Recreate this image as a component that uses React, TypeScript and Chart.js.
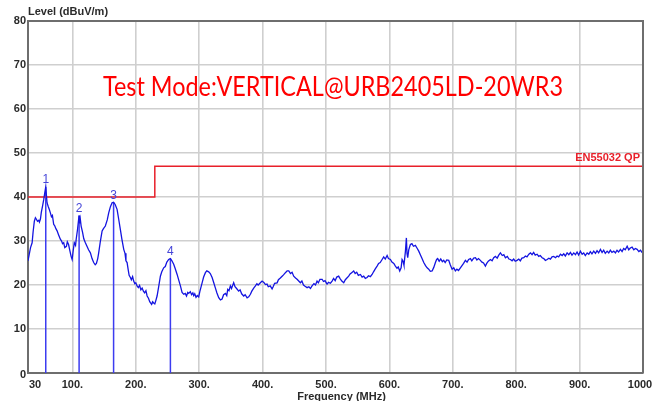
import React, { useEffect, useRef } from "react";
import { Chart, registerables } from "chart.js";
Chart.register(...registerables);

const freqMHz = [
  30, 32, 34, 36.5, 38, 40, 41.7, 43, 45, 46.9, 48, 49.6, 51, 53, 54.8, 56.5, 58, 59, 60, 62, 63.5, 65.3, 67, 68.5, 70.5, 72, 74, 75.9, 78, 81, 83, 84.5, 86.3, 88, 90.6, 92, 94, 96, 98, 99.6,
  101, 103, 105, 106, 108, 109.5, 110.6, 111.5, 112.5, 113.8, 116, 118, 120.5, 123, 125.5, 128.4, 131, 133.6, 136, 137.9, 140, 141.5, 144, 146.9, 149, 152, 155, 157.3, 160, 162.6,
  165, 167.5, 170.5, 173, 175.7, 178, 181, 183, 184.5, 186.3, 188, 189.5, 191.5, 193, 195, 196.7, 198.5, 200, 202, 204, 206, 208, 210, 212, 214, 216, 217.9, 220, 222, 223,
  225, 226.5, 228.3, 230, 231.5, 233.6, 236, 238.8, 241, 244, 246.5, 249, 251.9, 254.6, 257, 259.8, 262, 265.2, 268, 270.4, 273, 275.6, 278, 280, 282, 283.5, 286, 288, 290, 291.4,
  293, 295, 297, 299.2, 301, 304.6, 307, 309.8, 312, 315, 317.5, 320.4, 323, 325.6, 328, 330.8, 333.5, 336.1, 338.5, 341.4, 343.5, 345, 347, 349.2, 351, 354.4, 356.5, 359, 362.3, 364.5,
  367, 370.2, 372.5, 375.6, 378.1, 380.8, 383, 386, 388.7, 391, 393, 396.5, 399.2, 402, 404.5, 407, 409, 412, 415, 417, 419, 422.9, 425, 428, 430.8, 433, 436, 438.7, 441.3, 444,
  446.5, 449.1, 452, 454.4, 457, 459.6, 462, 464.5, 467, 470.2, 473, 475.5, 478, 481, 483.5, 485.9, 488, 490.5, 493.9, 496, 498.5, 501.7, 504, 507, 509.6, 512, 514.5, 517, 520, 522.5,
  525, 528, 530.5, 533, 535.8, 538, 540.5, 543.7, 546, 548.5, 551, 554.3, 557, 559.5, 562, 564.8, 567, 570, 572.7, 575, 577.5, 580.6, 583, 585.5, 588.5, 591, 593.5, 596.4, 598.5, 601.6,
  604, 607, 609.5, 612, 614, 616.3, 618.5, 620, 621.6, 623, 625.3, 626.8, 627.8, 628.9, 630.5, 633.1, 635.5, 638, 641, 643.5, 646.3, 649, 651.5, 654.2, 657, 659.5, 662, 664.5, 667.4, 670,
  672.6, 674.5, 676.2, 678.5, 681, 683.5, 685.7, 688, 690.5, 693.6, 696, 698.9, 701.5, 704.1, 706.5, 709, 712, 714.5, 717, 719.9, 722.5, 725, 727.8, 730, 733, 735.7, 738, 740.5, 743.5, 746,
  748.5, 751.4, 753.5, 756, 759.3, 762, 764.5, 767.2, 770, 772.5, 775.1, 778, 780.5, 783, 786, 788.5, 790.9, 793.5, 796, 798.5, 801.4, 804, 806.5, 809, 811.9, 814.5, 817, 820, 822.5, 825,
  827.5, 830, 833, 835.5, 838, 840.9, 843.5, 846, 848.8, 851.5, 854, 856.5, 859.2, 862, 864.5, 867, 869.8, 872.5, 875, 877.5, 880.3, 883, 885.5, 888, 890.8, 893.5, 896, 898.5, 901.3, 904,
  906.5, 909, 911.9, 914.5, 917, 919.5, 922.3, 925, 927.5, 930, 932.9, 935.5, 938, 940.5, 943.4, 946, 948.5, 951, 953.9, 956.5, 959, 961.5, 964.4, 967, 969.5, 972, 975, 977.5, 980, 982.8,
  985.5, 988, 990.7, 993.5, 996, 998, 1000,
];

const levelDb = [
  25.5, 27, 28.5, 29.6, 32, 34.5, 35.3, 35, 34.5, 34.7, 34.3, 35, 36.5, 38, 39.4, 41, 42.3, 40.5, 38.7, 37.8, 37.2, 36.4, 35.5, 35.8, 33.8, 33.5, 32.8, 32.3, 31.5, 30.4, 30, 29.4, 29.6, 28.5, 28.8, 29.8, 29.2, 27.8, 26.5, 25.8,
  27.5, 29.6, 29, 30.4, 32.5, 34.5, 35.8, 34, 35, 33.4, 32, 30.5, 29.6, 28.8, 28, 27.3, 26, 25.1, 24.6, 24.9, 26, 27.3, 29.8, 32.3, 32.8, 33.4, 34.8, 36.4, 37.8, 38.7,
  38.8, 38.3, 37.2, 35, 32.6, 30.5, 28.1, 27.2, 25.5, 25.1, 23.5, 22.2, 21.7, 21.2, 21.9, 20.9, 20.3, 20.5, 19.8, 19.4, 19.9, 18.9, 19.3, 18.6, 18.2, 18.7, 17.5, 17.0, 16.2, 16,
  15.6, 16.2, 15.9, 15.7, 16.4, 17.5, 19.5, 22, 23, 23.9, 24.2, 25.2, 25.8, 26, 25.5, 24.7, 23.8, 22.4, 21, 19.8, 18.3, 17.9, 18.1, 17.5, 18.3, 18.1, 18.5, 17.8, 18.2, 17.6,
  18.0, 17.2, 17.6, 17.3, 18.5, 20.5, 21.8, 22.8, 23.2, 23, 22.6, 21.7, 20.5, 19.3, 18.2, 17.1, 16.6, 16.8, 17.8, 18.1, 17.6, 19, 18.7, 19.8, 19.2, 20.5, 19.6, 19.2, 18.6, 18.9,
  18.0, 17.5, 17.8, 17.1, 17.3, 17.9, 18.6, 19.3, 19.8, 20.3, 20.0, 20.5, 20.9, 20.6, 20.1, 20.2, 19.6, 19.8, 19.1, 19.7, 20.4, 20.5, 21.2, 21.6, 22, 22.3, 22.8, 23.2, 23.2, 22.6,
  22.9, 22, 21.6, 21.3, 20.9, 20.5, 20.9, 20.0, 19.7, 19.4, 19.6, 19.2, 19.8, 20.3, 20.0, 20.9, 20.5, 21.3, 21.3, 20.8, 21.0, 20.2, 20.6, 20.4, 20.9, 21.5, 21.0, 21.8, 22, 21.4,
  20.9, 20.5, 21.2, 21.6, 22, 22.5, 22.8, 23.2, 22.6, 22.9, 22.2, 22.4, 21.8, 22.0, 21.5, 21.7, 22.1, 21.9, 22.4, 23.0, 23.6, 24.3, 24.9, 25.1, 25.8, 26.4, 25.9, 26.7, 26.0, 25.8,
  25.2, 24.9, 24.3, 23.8, 24.1, 23.2, 23.9, 25.8, 25.4, 24.5, 27.7, 30.7, 27.2, 26.2, 28.0, 29.2, 29.4, 28.8, 29, 28.4, 27.7, 26.8, 26.0, 25.1, 24.4, 23.9, 23.6, 23.1, 23.2, 24.0,
  25.1, 25.8, 26, 25.4, 25.9, 25.3, 25.6, 25.1, 25.7, 25.6, 24.6, 23.6, 23.9, 23.2, 23.6, 23.3, 23.9, 24.4, 24.9, 25.6, 25.2, 25.8, 26, 25.5, 26.1, 26.2, 25.7, 26.0, 25.6, 25.2,
  25.0, 24.3, 24.9, 25.4, 25.8, 25.5, 26.2, 26.5, 26.1, 26.8, 27.3, 26.7, 26.9, 26.2, 26.5, 25.9, 25.8, 25.5, 25.9, 25.4, 25.6, 25.9, 25.5, 26.1, 26.2, 26.6, 26.4, 27.0, 27.3, 26.9,
  27.4, 26.8, 27, 26.5, 26.7, 26.2, 26.0, 25.6, 25.8, 26.1, 25.9, 26.4, 26.5, 26.2, 26.6, 26.4, 27, 26.7, 27.1, 26.6, 27.3, 26.9, 27.4, 26.8, 27.3, 26.9, 27.5, 26.8, 27.7, 27.0,
  27.3, 26.7, 27.3, 27.0, 27.6, 27.1, 27.7, 27.2, 27.8, 27.3, 28.1, 27.4, 27.9, 27.2, 27.7, 27.3, 27.9, 27.4, 27.7, 27.3, 27.9, 27.5, 28.1, 27.6, 28.3, 28.0, 28.8, 28.0, 28.4, 28.6,
  28.0, 28.3, 28.1, 27.6, 27.9, 27.5, 27.7,
];

const limitFreq = [30, 230, 230, 1000];
const limitLevel = [40, 40, 47, 47];
const limitName = "EN55032 QP";

const markerFreq = [58, 110.6, 165, 254.6];
const markerLevel = [42.3, 35.8, 38.8, 26.0];
const markerNames = ["1", "2", "3", "4"];

const xTicks = [30, 100, 200, 300, 400, 500, 600, 700, 800, 900, 1000];
const xTickLabels = ["30", "100.", "200.", "300.", "400.", "500.", "600.", "700.", "800.", "900.", "1000"];
const yTicks = [0, 10, 20, 30, 40, 50, 60, 70, 80];

const titleText = "Test Mode:VERTICAL@URB2405LD-20WR3";
const yTitle = "Level (dBuV/m)";
const xTitle = "Frequency (MHz)";

const overlay = {
  id: "overlay",
  afterDraw(chart: any) {
    const ctx = chart.ctx;
    const a = chart.chartArea;
    const xs = chart.scales.x;
    const ys = chart.scales.y;
    ctx.save();
    // frame top and right
    ctx.strokeStyle = "#6e6e6e";
    ctx.lineWidth = 2;
    ctx.beginPath();
    ctx.moveTo(a.left, a.top);
    ctx.lineTo(a.right, a.top);
    ctx.lineTo(a.right, a.bottom);
    ctx.stroke();

    // tick labels
    ctx.fillStyle = "#2a2a2a";
    ctx.font = "bold 11px 'Liberation Sans', Arial, sans-serif";
    ctx.textBaseline = "top";
    xTicks.forEach((v, i) => {
      const px = xs.getPixelForValue(v);
      ctx.textAlign = i === 0 ? "left" : "center";
      ctx.fillText(xTickLabels[i], i === 0 ? px + 1 : i === xTicks.length - 1 ? px - 3 : px, a.bottom + 6);
    });
    ctx.textAlign = "right";
    ctx.textBaseline = "middle";
    yTicks.forEach((v) => {
      const py = ys.getPixelForValue(v);
      ctx.fillText(String(v), a.left - 2, v === 0 ? py + 2 : py);
    });

    // axis titles
    ctx.textAlign = "left";
    ctx.textBaseline = "middle";
    ctx.fillText(yTitle, a.left, 12);
    ctx.textAlign = "center";
    ctx.textBaseline = "middle";
    ctx.fillText(xTitle, (a.left + a.right) / 2 + 6, a.bottom + 24);

    // limit label
    ctx.fillStyle = "#e8202a";
    ctx.textAlign = "right";
    ctx.textBaseline = "bottom";
    ctx.fillText(limitName, a.right - 3, ys.getPixelForValue(limitLevel[limitLevel.length - 1]) - 3);

    // marker labels
    ctx.fillStyle = "#4646d8";
    ctx.font = "12px 'Liberation Sans', Arial, sans-serif";
    ctx.textAlign = "center";
    ctx.textBaseline = "bottom";
    markerFreq.forEach((f, i) => {
      ctx.fillText(markerNames[i], xs.getPixelForValue(f), ys.getPixelForValue(markerLevel[i]) - 1);
    });

    // title
    ctx.fillStyle = "#ff0000";
    ctx.font = "26px Lato, 'Liberation Sans', sans-serif";
    ctx.textAlign = "left";
    ctx.textBaseline = "alphabetic";
    const w = ctx.measureText(titleText).width;
    const targetW = 460;
    ctx.translate(103, 96);
    ctx.scale(targetW / w, 1);
    ctx.fillText(titleText, 0, 0);
    ctx.restore();
  },
};

export default function App() {
  const ref = useRef<HTMLCanvasElement>(null);
  useEffect(() => {
    if (!ref.current) return;
    const trace = freqMHz.map((f, i) => ({ x: f, y: levelDb[i] }));
    const limit = limitFreq.map((f, i) => ({ x: f, y: limitLevel[i] }));
    const markers: any[] = [];
    markerFreq.forEach((f, i) => {
      markers.push({ x: f, y: 0 }, { x: f, y: markerLevel[i] }, { x: f, y: null });
    });
    const chart = new Chart(ref.current, {
      type: "line",
      data: {
        datasets: [
          { data: trace, borderColor: "#1414e0", borderWidth: 1.3, pointRadius: 0, tension: 0 },
          { data: limit, borderColor: "#e8202a", borderWidth: 1.5, pointRadius: 0, tension: 0 },
          { data: markers, borderColor: "#3c3cf0", borderWidth: 1.5, pointRadius: 0, spanGaps: false },
        ],
      },
      options: {
        animation: false,
        responsive: false,
        maintainAspectRatio: false,
        layout: { padding: { left: 28, right: 25, top: 21, bottom: 28 } },
        plugins: { legend: { display: false }, tooltip: { enabled: false }, title: { display: false } },
        scales: {
          x: {
            type: "linear",
            min: 30,
            max: 1000,
            afterBuildTicks: (s: any) => {
              s.ticks = xTicks.map((v) => ({ value: v }));
            },
            ticks: { display: false },
            grid: {
              color: (c: any) => (c.tick && (c.tick.value === 30 || c.tick.value === 1000) ? "rgba(0,0,0,0)" : "#cfcfcf"),
              lineWidth: 1.6,
              drawTicks: false,
            },
            border: { display: true, color: "#6e6e6e", width: 2 },
          },
          y: {
            type: "linear",
            min: 0,
            max: 80,
            afterBuildTicks: (s: any) => {
              s.ticks = yTicks.map((v) => ({ value: v }));
            },
            ticks: { display: false },
            grid: {
              color: (c: any) => (c.tick && (c.tick.value === 0 || c.tick.value === 80) ? "rgba(0,0,0,0)" : "#cfcfcf"),
              lineWidth: 1.6,
              drawTicks: false,
            },
            border: { display: true, color: "#6e6e6e", width: 2 },
          },
        },
      },
      plugins: [overlay],
    });
    return () => chart.destroy();
  }, []);
  return (
    <div style={{ position: "fixed", left: 0, top: 0, width: 668, height: 401, background: "#ffffff" }}>
      <canvas ref={ref} width={668} height={401} style={{ width: 668, height: 401, display: "block" }} />
    </div>
  );
}
